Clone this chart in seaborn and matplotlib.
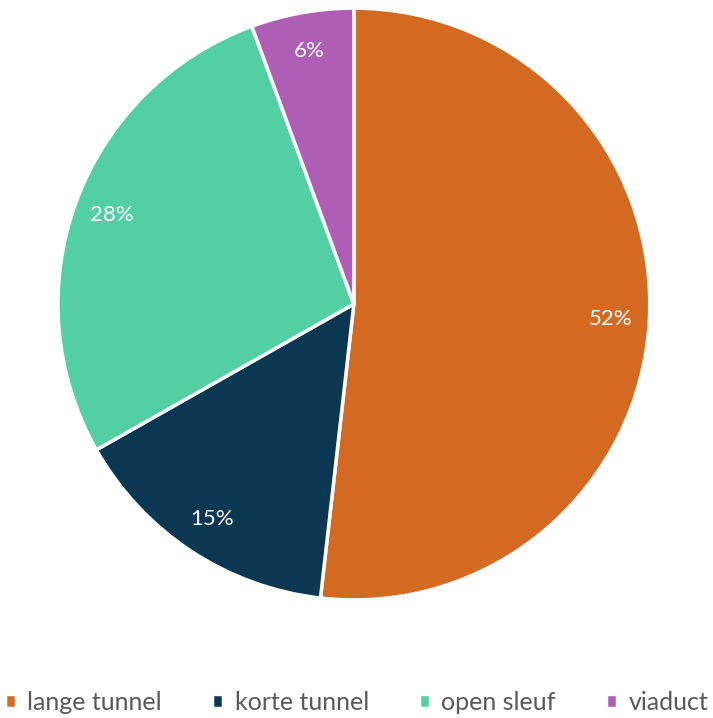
import matplotlib
matplotlib.use("Agg")
import matplotlib.pyplot as plt
import seaborn as sns

# ----------- Data -----------
categories = ["lange tunnel", "korte tunnel", "open sleuf", "viaduct"]
shares = [51.8, 15.0, 27.6, 5.6]
colors = ["#D46A21", "#0B3752", "#53CFA4", "#AE5EB5"]

sns.set_theme(style="white")
plt.rcParams["font.family"] = ["Lato", "DejaVu Sans"]

fig = plt.figure(figsize=(7.13, 7.18), dpi=100)
ax = fig.add_axes([0.0813, 0.1643, 0.830, 0.8245])

wedges, texts, autotexts = ax.pie(
    shares,
    colors=sns.color_palette(colors),
    startangle=90,
    counterclock=False,
    autopct="%1.0f%%",
    pctdistance=0.87,
    radius=1,
    wedgeprops={"edgecolor": "white", "linewidth": 2.5},
    textprops={"color": "white", "fontsize": 16},
)
ax.set_xlim(-1.0, 1.0)
ax.set_ylim(-1.0, 1.0)
ax.set_aspect("equal")

leg = fig.legend(
    wedges, categories,
    loc="center", bbox_to_anchor=(0.5, 0.022),
    ncol=4, frameon=False,
    prop={"size": 18},
    handlelength=0.45, handleheight=0.45, handletextpad=0.45,
    columnspacing=2.0,
)
for t in leg.get_texts():
    t.set_color("#595959")

fig.savefig("out.png", dpi=100)
